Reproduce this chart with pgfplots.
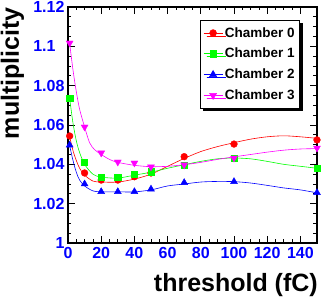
\documentclass[border=0pt]{standalone}
\usepackage{fontspec}
\setmainfont{Liberation Sans}
\usepackage{pgfplots}
\pgfplotsset{compat=1.18}
\usetikzlibrary{shadows}
\definecolor{rred}{RGB}{255,0,0}
\definecolor{rgreen}{RGB}{0,255,0}
\definecolor{rblue}{RGB}{0,0,255}
\definecolor{rmag}{RGB}{255,0,255}
\begin{document}
\begin{tikzpicture}
\path[use as bounding box] (-68pt,-56pt) rectangle (254pt,243pt);
\begin{axis}[
  at={(0,0)}, anchor=south west, scale only axis,
  width=249pt, height=236pt,
  xmin=0, xmax=150, ymin=1, ymax=1.12,
  xtick={0,20,40,60,80,100,120,140},
  xticklabels={0,20,40,60,80,100,120,140},
  ytick={1,1.02,1.04,1.06,1.08,1.1,1.12},
  yticklabels={1,1.02,1.04,1.06,1.08,1.1\phantom{0},1.12},
  minor x tick num=3, minor y tick num=3,
  major tick length=7pt, minor tick length=3.5pt,
  tick style={black, line width=0.7pt},
  axis line style={line width=1.3pt},
  ticklabel style={font=\fontsize{16}{16}\selectfont\bfseries, text=rblue},
  xticklabel style={yshift=-1pt},
  yticklabel style={xshift=0pt},
  xlabel={threshold (fC)},
  ylabel={multiplicity},
  label style={font=\fontsize{25}{25}\selectfont\bfseries},
  xlabel style={at={(axis description cs:1.004,-0.2076)}, anchor=base east, inner sep=0pt},
  ylabel style={at={(axis description cs:-0.197,1.0)}, anchor=base east, inner sep=0pt},
  legend style={at={(0.932,0.945)}, anchor=north east,
    font=\fontsize{13.5}{14}\selectfont\bfseries,
    draw=black, line width=0.8pt, inner xsep=3pt, inner ysep=5pt,
    row sep=5.5pt,
    drop shadow={shadow xshift=3pt, shadow yshift=-3pt, fill=black, opacity=1}},
  legend cell align=left,
  legend image code/.code={\draw[#1, line width=0.6pt, sharp plot, mark repeat=2, mark phase=2] plot coordinates {(0pt,0pt) (9.5pt,0pt) (19pt,0pt)};},
]
% fitted curves
\addplot[rred, line width=0.6pt, smooth, no marks, forget plot] coordinates {
(1,1.054)(3,1.047)(5,1.042)(7,1.038)(10,1.0345)(15,1.0315)(20,1.031)(30,1.031)(40,1.0325)(50,1.035)(60,1.039)(70,1.043)(80,1.0465)(90,1.049)(100,1.051)(110,1.0528)(120,1.054)(130,1.0545)(140,1.054)(150,1.0532)};
\addplot[rgreen, line width=0.6pt, smooth, no marks, forget plot] coordinates {
(1,1.0735)(3,1.061)(5,1.052)(7,1.046)(10,1.040)(15,1.035)(20,1.0335)(30,1.033)(40,1.0345)(50,1.036)(60,1.038)(70,1.0398)(80,1.0415)(90,1.0428)(100,1.0432)(110,1.0428)(120,1.0415)(130,1.040)(140,1.039)(150,1.038)};
\addplot[rblue, line width=0.6pt, smooth, no marks, forget plot] coordinates {
(1,1.0495)(3,1.042)(5,1.036)(7,1.032)(10,1.029)(15,1.0265)(20,1.026)(30,1.026)(40,1.026)(50,1.027)(60,1.029)(70,1.030)(80,1.031)(90,1.0313)(100,1.0312)(110,1.0305)(120,1.0293)(130,1.028)(140,1.027)(150,1.0255)};
\addplot[rmag, line width=0.6pt, smooth, no marks, forget plot] coordinates {
(1,1.1015)(3,1.088)(5,1.077)(7,1.068)(10,1.059)(13,1.051)(16,1.0475)(20,1.045)(25,1.0425)(30,1.041)(40,1.0395)(50,1.0388)(60,1.039)(70,1.0398)(80,1.041)(90,1.0425)(100,1.0438)(110,1.045)(120,1.0462)(130,1.0472)(140,1.0478)(150,1.048)};
% measured points
\addplot[rred, only marks, mark=*, mark size=3.4pt] coordinates {
(1,1.0544)(10,1.0356)(20,1.032)(30,1.032)(40,1.0337)(50,1.0356)(70,1.0439)(100,1.0503)(150,1.0524)};
\addlegendentry{Chamber 0}
\addplot[rgreen, only marks, mark=square*, mark size=3.1pt] coordinates {
(1,1.0737)(10,1.0412)(20,1.0336)(30,1.0336)(40,1.035)(50,1.0363)(70,1.0395)(100,1.043)(150,1.0381)};
\addlegendentry{Chamber 1}
\addplot[rblue, only marks, mark=triangle*, mark size=4pt] coordinates {
(1,1.0498)(10,1.030)(20,1.0261)(30,1.0261)(40,1.0261)(50,1.0274)(70,1.0307)(100,1.0312)(150,1.0256)};
\addlegendentry{Chamber 2}
\addplot[rmag, only marks, mark=triangle*, mark size=4pt, mark options={rotate=180}] coordinates {
(1,1.1017)(10,1.059)(20,1.0458)(30,1.0412)(40,1.0407)(50,1.0387)(70,1.0397)(100,1.0432)(150,1.0483)};
\addlegendentry{Chamber 3}
\end{axis}
\end{tikzpicture}
\end{document}
